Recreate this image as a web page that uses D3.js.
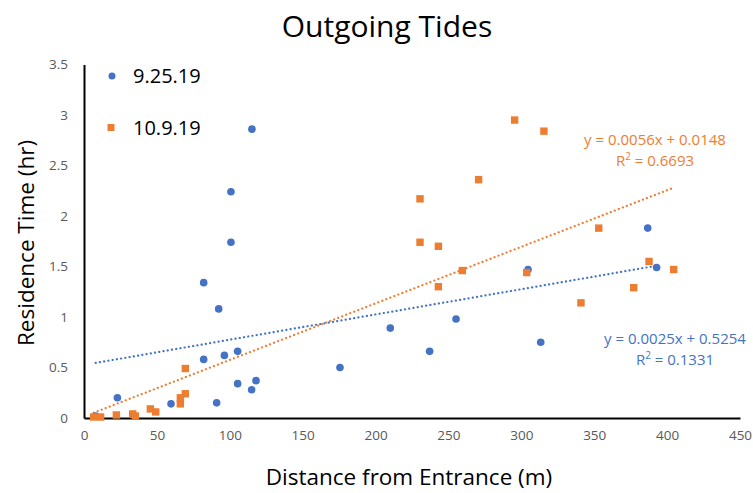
<html>
<head>
<script src="https://d3js.org/d3.v7.min.js"></script>
<style>
  body { margin: 0; background: #fff; }
  text { font-family: "Open Sans", sans-serif; }
</style>
</head>
<body>
<div id="chart"></div>
<script>
// 9.25.19 (blue circles)
const sepX = [8, 22.9, 59.7, 82.1, 82.1, 91, 92.4, 96.3, 100.8, 100.8, 105.4, 105.4, 115, 115.2, 118, 175.6, 210.1, 237.1, 255.2, 304.6, 313.3, 386.7, 392.8];
const sepY = [0.02, 0.2, 0.14, 0.58, 1.34, 0.15, 1.08, 0.62, 2.24, 1.74, 0.66, 0.34, 0.28, 2.86, 0.37, 0.5, 0.89, 0.66, 0.98, 1.47, 0.75, 1.88, 1.49];
// 10.9.19 (orange squares)
const octX = [6.6, 11.4, 22.2, 33.4, 35.2, 45.5, 49.2, 66.1, 66.1, 69.5, 69.5, 230.5, 230.5, 243.1, 243.1, 259.5, 270.7, 295.4, 303.7, 315.5, 340.9, 353.1, 377.1, 387.6, 404.5];
const octY = [0.01, 0.01, 0.03, 0.04, 0.02, 0.09, 0.06, 0.14, 0.2, 0.24, 0.49, 2.17, 1.74, 1.7, 1.3, 1.46, 2.36, 2.95, 1.44, 2.84, 1.14, 1.88, 1.29, 1.55, 1.47];

const xTicks = [0, 50, 100, 150, 200, 250, 300, 350, 400, 450];
const yTicks = [0, 0.5, 1, 1.5, 2, 2.5, 3, 3.5];

// trendline coefficients as printed on the chart
const sepFit = { m: 0.0025, b: 0.5254, r2: "0.1331" };
const octFit = { m: 0.0056, b: 0.0148, r2: "0.6693" };

const blue = "#4472C4", orange = "#ED7D31";

const svg = d3.select("#chart").append("svg")
    .attr("width", 753)
    .attr("height", 493);

const x = d3.scaleLinear().domain([0, 450]).range([84, 740]);
const y = d3.scaleLinear().domain([0, 3.5]).range([418, 64.5]);

// title
svg.append("text")
    .attr("x", 387).attr("y", 37)
    .attr("text-anchor", "middle")
    .attr("font-size", 30)
    .attr("fill", "#000")
    .text("Outgoing Tides");

// axes
const xAxis = svg.append("g")
    .attr("transform", `translate(0,${y(0)})`)
    .call(d3.axisBottom(x).tickValues(xTicks).tickSize(0).tickPadding(12).tickFormat(d3.format("d")));
const yAxis = svg.append("g")
    .attr("transform", `translate(${x(0)},0)`)
    .call(d3.axisLeft(y).tickValues(yTicks).tickSize(0).tickPadding(16).tickFormat(d => d));
[xAxis, yAxis].forEach(a => {
    a.select(".domain").attr("stroke", "#000").attr("stroke-width", 2);
    a.selectAll("text").attr("font-size", 13.5).attr("fill", "#595959").attr("font-family", "Open Sans, sans-serif");
});

// axis titles
svg.append("text")
    .attr("x", 409).attr("y", 485)
    .attr("text-anchor", "middle")
    .attr("font-size", 22.5)
    .text("Distance from Entrance (m)");
svg.append("text")
    .attr("transform", "translate(34,243) rotate(-90)")
    .attr("text-anchor", "middle")
    .attr("font-size", 22.5)
    .text("Residence Time (hr)");

// trendlines
const line = d3.line().x(d => x(d[0])).y(d => y(d[1]));
function trend(xs, fit, color) {
    const ext = d3.extent(xs);
    svg.append("path")
        .datum(ext.map(v => [v, fit.m * v + fit.b]))
        .attr("d", line)
        .attr("fill", "none")
        .attr("stroke", color)
        .attr("stroke-width", 2.2)
        .attr("stroke-dasharray", "0.1 4.2")
        .attr("stroke-linecap", "round");
}
trend(sepX, sepFit, blue);
trend(octX, octFit, orange);

// points
svg.append("g").selectAll("circle")
    .data(d3.zip(sepX, sepY))
    .join("circle")
    .attr("cx", d => x(d[0]))
    .attr("cy", d => y(d[1]))
    .attr("r", 3.8)
    .attr("fill", blue);

svg.append("g").selectAll("rect")
    .data(d3.zip(octX, octY))
    .join("rect")
    .attr("x", d => x(d[0]) - 3.7)
    .attr("y", d => y(d[1]) - 3.7)
    .attr("width", 7.4).attr("height", 7.4)
    .attr("fill", orange);

// equation labels
function eqLabel(fit, cx, cy, color) {
    svg.append("text")
        .attr("x", cx).attr("y", cy)
        .attr("text-anchor", "middle")
        .attr("font-size", 15)
        .attr("fill", color)
        .text(`y = ${fit.m.toFixed(4)}x + ${fit.b.toFixed(4)}`);
    const t2 = svg.append("text")
        .attr("x", cx).attr("y", cy + 21)
        .attr("text-anchor", "middle")
        .attr("font-size", 15)
        .attr("fill", color);
    t2.append("tspan").text("R");
    t2.append("tspan").attr("dy", -6).attr("font-size", 10).text("2");
    t2.append("tspan").attr("dy", 6).text(" = " + fit.r2);
}
eqLabel(octFit, 655, 145, orange);
eqLabel(sepFit, 675, 344, blue);

// legend
const legend = svg.append("g");
legend.append("circle").attr("cx", 112).attr("cy", 76).attr("r", 3.5).attr("fill", blue);
legend.append("text").attr("x", 133).attr("y", 83).attr("font-size", 20).text("9.25.19");
legend.append("rect").attr("x", 107.5).attr("y", 124).attr("width", 7).attr("height", 7).attr("fill", orange);
legend.append("text").attr("x", 133).attr("y", 135).attr("font-size", 20).text("10.9.19");
</script>
</body>
</html>
